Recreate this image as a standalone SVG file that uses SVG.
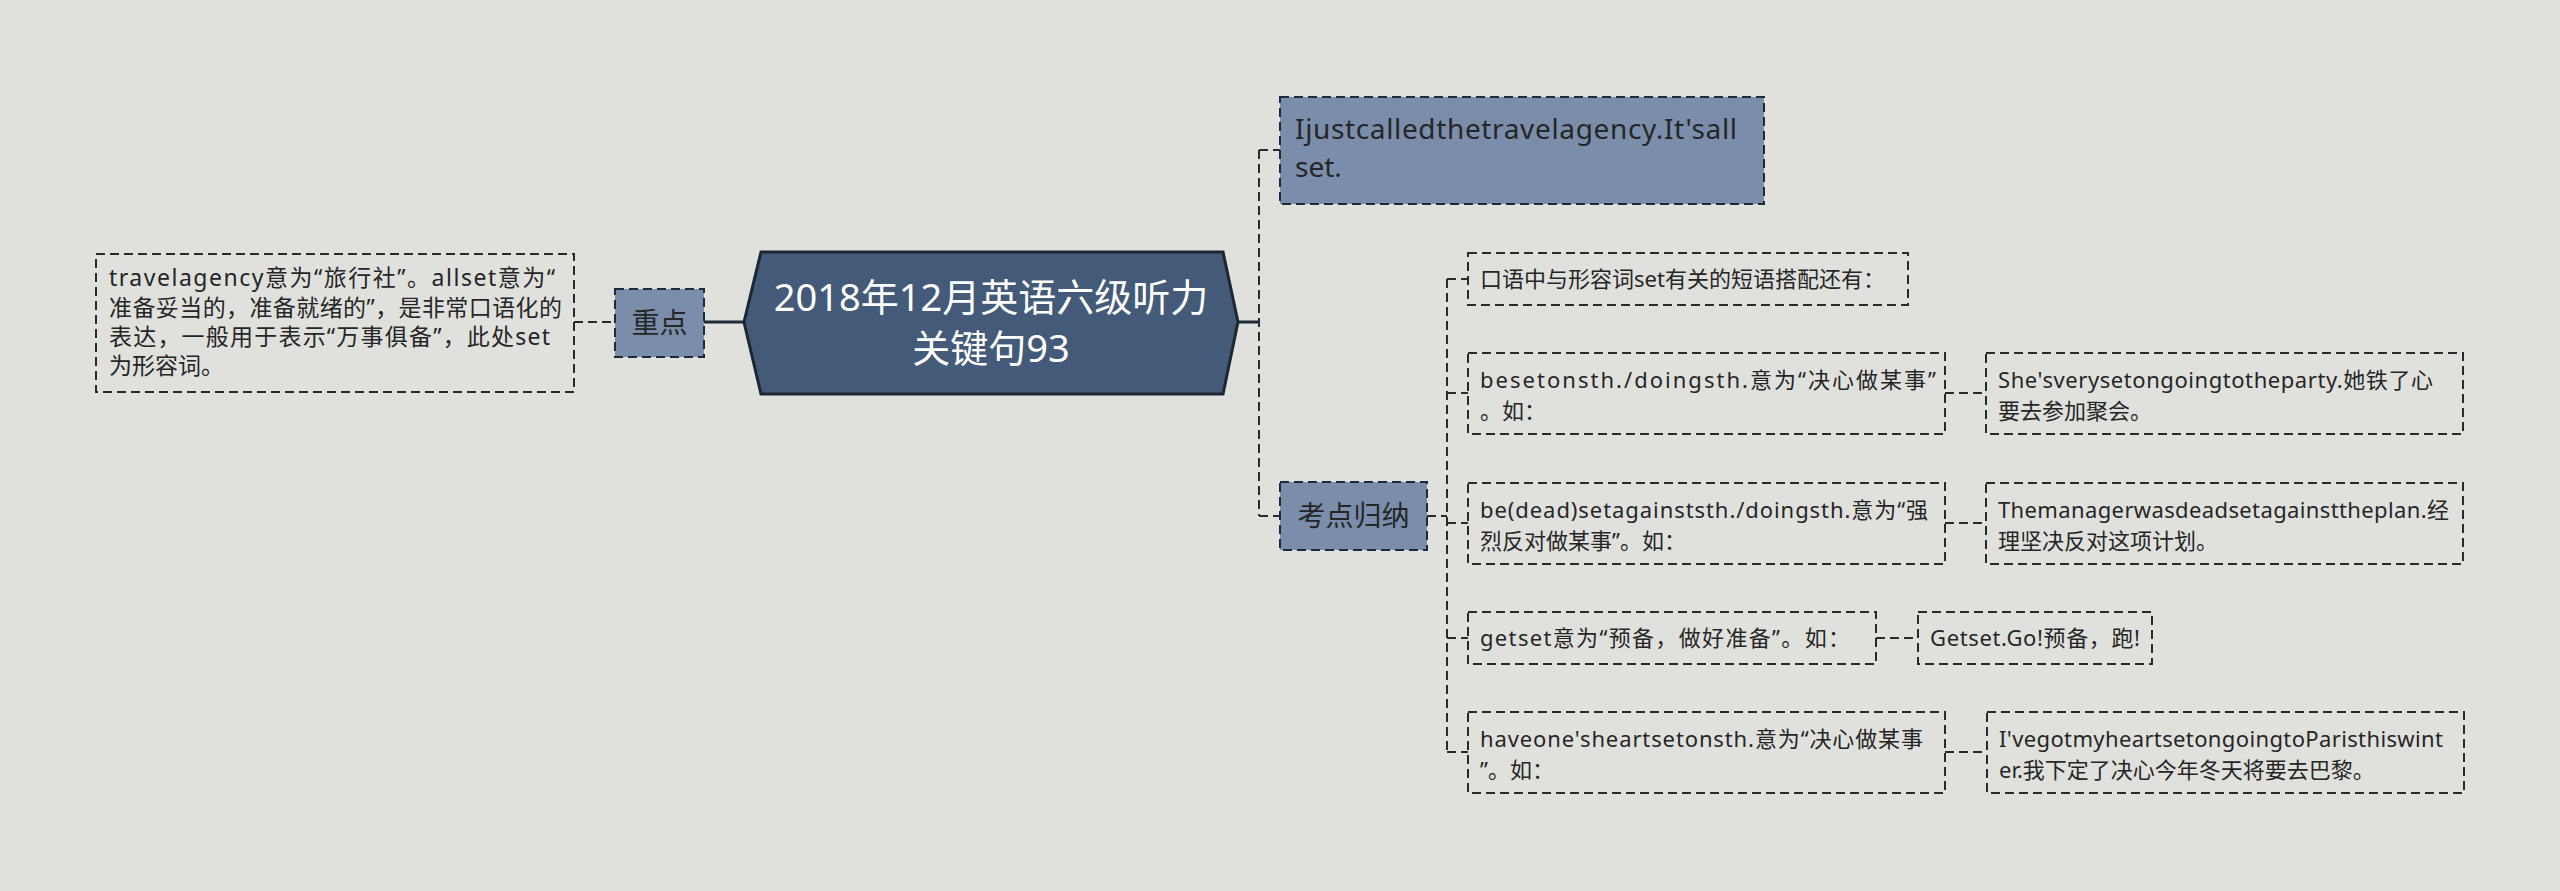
<svg xmlns="http://www.w3.org/2000/svg" width="2560" height="891" viewBox="0 0 2560 891">
<style>
.bg{fill:#e0e1dd}
.box{fill:none;stroke:#2a2a2a;stroke-width:2;stroke-dasharray:9 5}
.blue{fill:#7a8eab;stroke:#1f2a38;stroke-width:2;stroke-dasharray:9 5}
.con{fill:none;stroke:#2a2a2a;stroke-width:2;stroke-dasharray:9 5}
.solid{fill:none;stroke:#1f2a38;stroke-width:3}
text{font-family:"Noto Sans","Noto Sans CJK SC",sans-serif;fill:#262626}
.t22{font-size:22px}
.t23{font-size:23px}
.t28{font-size:28px}
.title{font-size:38px;fill:#ffffff}
</style>
<rect class="bg" x="0" y="0" width="2560" height="891"/>
<g id="connectors">
<line class="solid" x1="704" y1="322" x2="745" y2="322"/>
<line class="con" x1="574" y1="322" x2="615" y2="322"/>
<line class="solid" x1="1238" y1="322" x2="1259" y2="322"/>
<path class="con" d="M1259,150 L1259,516 M1259,150 L1280,150 M1259,516 L1280,516"/>
<path class="con" d="M1427,516 L1447,516 M1447,279 L1447,752 M1447,279 L1468,279 M1447,393 L1468,393 M1447,523 L1468,523 M1447,638 L1468,638 M1447,752 L1468,752"/>
<line class="con" x1="1945" y1="393" x2="1986" y2="393"/>
<line class="con" x1="1945" y1="523" x2="1986" y2="523"/>
<line class="con" x1="1876" y1="638" x2="1918" y2="638"/>
<line class="con" x1="1945" y1="752" x2="1987" y2="752"/>
</g>
<g id="root">
<polygon points="744,322 761,252 1223,252 1238,322 1223,394 761,394" fill="#435a78" stroke="#1c2733" stroke-width="3"/>
<text class="title" x="991" y="311" text-anchor="middle">2018年12月英语六级听力</text>
<text class="title" x="991" y="362" text-anchor="middle">关键句93</text>
</g>
<g id="n-zhongdian">
<rect class="blue" x="615" y="289" width="89" height="68"/>
<text class="t28" x="659.5" y="333" text-anchor="middle">重点</text>
</g>
<g id="n-zhongdian-note">
<rect class="box" x="96" y="254" width="478" height="138"/>
<text class="t23" x="109" y="286" textLength="446" lengthAdjust="spacing">travelagency意为“旅行社”。allset意为“</text>
<text class="t23" x="109" y="316" textLength="453" lengthAdjust="spacing">准备妥当的，准备就绪的”，是非常口语化的</text>
<text class="t23" x="109" y="345" textLength="441" lengthAdjust="spacing">表达，一般用于表示“万事俱备”，此处set</text>
<text class="t23" x="109" y="374">为形容词。</text>
</g>
<g id="n-sentence">
<rect class="blue" x="1280" y="97" width="484" height="107"/>
<text class="t28" x="1295" y="139" textLength="442" lengthAdjust="spacing">Ijustcalledthetravelagency.It'sall</text>
<text class="t28" x="1295" y="177">set.</text>
</g>
<g id="n-kaodian">
<rect class="blue" x="1280" y="482" width="147" height="68"/>
<text class="t28" x="1353.5" y="526" text-anchor="middle">考点归纳</text>
</g>
<g id="n-c1">
<rect class="box" x="1468" y="253" width="440" height="52"/>
<text class="t22" x="1480" y="287" textLength="405" lengthAdjust="spacing">口语中与形容词set有关的短语搭配还有：</text>
</g>
<g id="n-c2">
<rect class="box" x="1468" y="353" width="477" height="81"/>
<text class="t22" x="1480" y="388" textLength="456" lengthAdjust="spacing">besetonsth./doingsth.意为“决心做某事”</text>
<text class="t22" x="1480" y="419">。如：</text>
</g>
<g id="n-c3">
<rect class="box" x="1468" y="483" width="477" height="81"/>
<text class="t22" x="1480" y="518" textLength="448" lengthAdjust="spacing">be(dead)setagainststh./doingsth.意为“强</text>
<text class="t22" x="1480" y="549">烈反对做某事”。如：</text>
</g>
<g id="n-c4">
<rect class="box" x="1468" y="612" width="408" height="52"/>
<text class="t22" x="1480" y="646" textLength="370" lengthAdjust="spacing">getset意为“预备，做好准备”。如：</text>
</g>
<g id="n-c5">
<rect class="box" x="1468" y="712" width="477" height="81"/>
<text class="t22" x="1480" y="747" textLength="443" lengthAdjust="spacing">haveone'sheartsetonsth.意为“决心做某事</text>
<text class="t22" x="1480" y="778">”。如：</text>
</g>
<g id="n-e2">
<rect class="box" x="1986" y="353" width="477" height="81"/>
<text class="t22" x="1998" y="388" textLength="435" lengthAdjust="spacing">She'sverysetongoingtotheparty.她铁了心</text>
<text class="t22" x="1998" y="419">要去参加聚会。</text>
</g>
<g id="n-e3">
<rect class="box" x="1986" y="483" width="477" height="81"/>
<text class="t22" x="1998" y="518" textLength="451" lengthAdjust="spacing">Themanagerwasdeadsetagainsttheplan.经</text>
<text class="t22" x="1998" y="549">理坚决反对这项计划。</text>
</g>
<g id="n-e4">
<rect class="box" x="1918" y="612" width="234" height="52"/>
<text class="t22" x="1930" y="646" textLength="210" lengthAdjust="spacing">Getset.Go!预备，跑!</text>
</g>
<g id="n-e5">
<rect class="box" x="1987" y="712" width="477" height="81"/>
<text class="t22" x="1999" y="747" textLength="444" lengthAdjust="spacing">I'vegotmyheartsetongoingtoParisthiswint</text>
<text class="t22" x="1999" y="778">er.我下定了决心今年冬天将要去巴黎。</text>
</g>
</svg>
